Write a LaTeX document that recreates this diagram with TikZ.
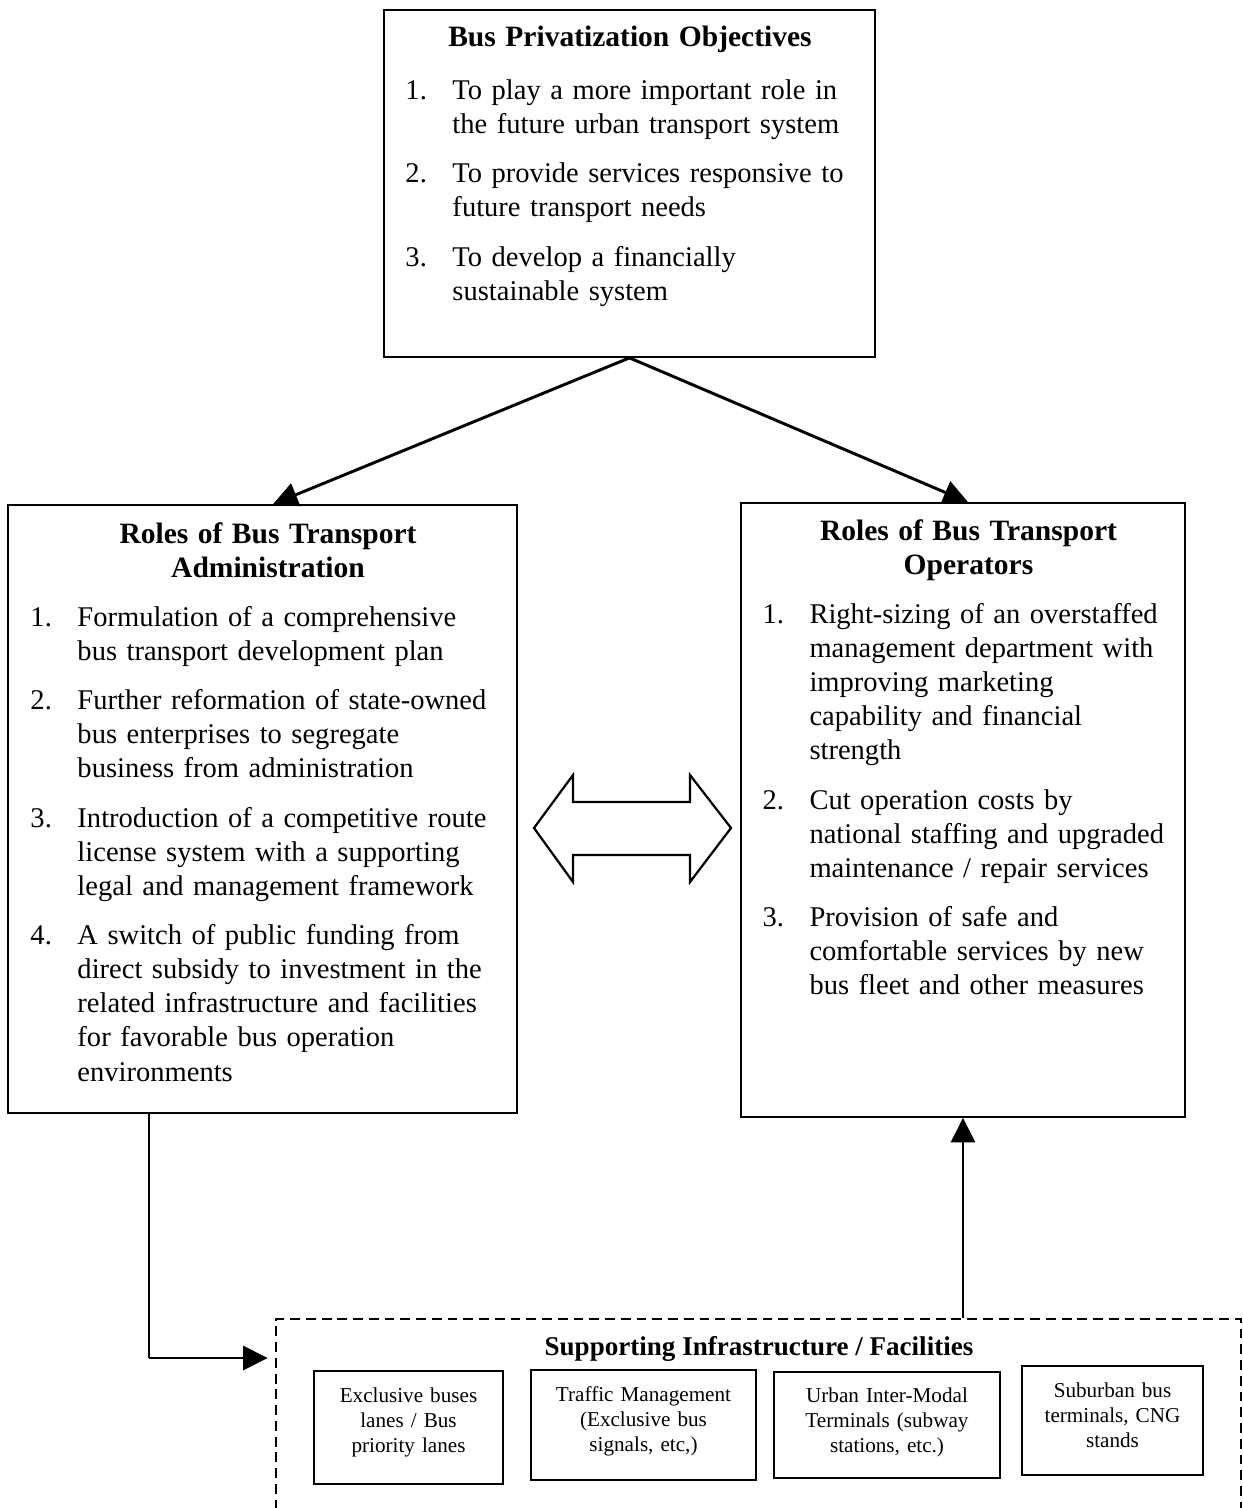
\documentclass[tikz,border=0pt]{standalone}
\usepackage{fontspec}
\setmainfont{Liberation Serif}
\usepackage{tikz}
\usetikzlibrary{arrows.meta,positioning,fit,calc}
\newdimen\pxu \pxu=0.4065pt
\newcommand{\bitem}[2]{\par\vspace{6.2pt}\hyphenpenalty=10000\relax\hangindent=47\pxu\hangafter=1\noindent\let\\\newline\makebox[47\pxu][l]{#1}#2\par}
\newcommand{\btitle}[1]{{\centering\bfseries\fontsize{12}{13.85}\selectfont #1\par}}

\begin{document}
\begin{tikzpicture}[x=0.4065pt,y=-0.4065pt,
  frame/.style={draw,line width=0.7pt,inner sep=0pt},
  subframe/.style={draw,line width=0.75pt,inner sep=0pt},
  dashframe/.style={draw,line width=1.2pt,dash pattern=on 4pt off 2.4pt,inner sep=0pt},
  txt/.style={inner sep=0pt,anchor=base west,font=\fontsize{11.6}{13.85}\selectfont},
  subtxt/.style={inner sep=0pt,anchor=base,align=center,text width=230\pxu,font=\fontsize{8.6}{10.3}\selectfont},
  arr/.style={-{Triangle[length=10pt,width=9.8pt]},line width=1.2pt}
]
\useasboundingbox (0,0) rectangle (1242,1508);

% boxes
\node[frame,fit={(384,10) (875,357)}] (obj) {};
\node[frame,fit={(8,505) (517,1113)}] (admin) {};
\node[frame,fit={(741,503) (1185,1117)}] (oper) {};
\node[dashframe,fit={(276,1319) (1241,1570)}] (infra) {};
\node[subframe,fit={(314,1371) (503,1484)}] (lanes) {};
\node[subframe,fit={(531,1370) (756,1480)}] (traffic) {};
\node[subframe,fit={(774,1372) (1000,1478)}] (terminals) {};
\node[subframe,fit={(1022,1366) (1203,1475)}] (suburban) {};

% texts
\node[txt,text width=449\pxu] (objtxt) at (405,47) {%
  \btitle{Bus Privatization Objectives}\vspace{1.3pt}
  \bitem{1.}{To play a more important role in\\the future urban transport system}
  \bitem{2.}{To provide services responsive to\\future transport needs}
  \bitem{3.}{To develop a financially\\sustainable system}};
\node[txt,text width=475\pxu] (admintxt) at (30,543) {%
  \btitle{Roles of Bus Transport\\Administration}
  \bitem{1.}{Formulation of a comprehensive\\bus transport development plan}
  \bitem{2.}{Further reformation of state-owned\\bus enterprises to segregate\\business from administration}
  \bitem{3.}{Introduction of a competitive route\\license system with a supporting\\legal and management framework}
  \bitem{4.}{A switch of public funding from\\direct subsidy to investment in the\\related infrastructure and facilities\\for favorable bus operation\\environments}};
\node[txt,text width=412\pxu] (opertxt) at (762,540) {%
  \btitle{Roles of Bus Transport\\Operators}
  \bitem{1.}{Right-sizing of an overstaffed\\management department with\\improving marketing\\capability and financial\\strength}
  \bitem{2.}{Cut operation costs by\\national staffing and upgraded\\maintenance / repair services}
  \bitem{3.}{Provision of safe and\\comfortable services by new\\bus fleet and other measures}};
\node[inner sep=0pt,anchor=base,font=\fontsize{11}{12.6}\selectfont\bfseries] (infratxt) at (759,1355) {Supporting Infrastructure / Facilities};
\node[subtxt] (lanestxt) at (408.5,1402) {Exclusive buses\\lanes / Bus\\priority lanes};
\node[subtxt] (traffictxt) at (643.5,1401) {Traffic Management\\(Exclusive bus\\signals, etc,)};
\node[subtxt] (terminalstxt) at (887,1402) {Urban Inter-Modal\\Terminals (subway\\stations, etc.)};
\node[subtxt] (suburbantxt) at (1112.5,1397) {Suburban bus\\terminals, CNG\\stands};

% two-way arrow between the roles
\draw[line width=0.9pt,line join=miter] (534,828) -- (573,775) -- (573,802) -- (690,802) -- (690,775)
  -- (731,828) -- (690,882) -- (690,855) -- (573,855) -- (573,882) -- cycle;

% connectors
\draw[arr] (obj.south) -- ($(admin.north)+(10.5,0)$);
\draw[arr] (obj.south) -- ($(oper.north)+(5,0)$);
\coordinate (turn) at (149,1358);
\draw[line width=0.6pt] (admin.south -| turn) -- (turn);
\draw[arr,shorten >=2.8pt] (turn) -- (infra.west |- turn);
\draw[arr] (infra.north -| oper.south) -- (oper.south);
\end{tikzpicture}
\end{document}
